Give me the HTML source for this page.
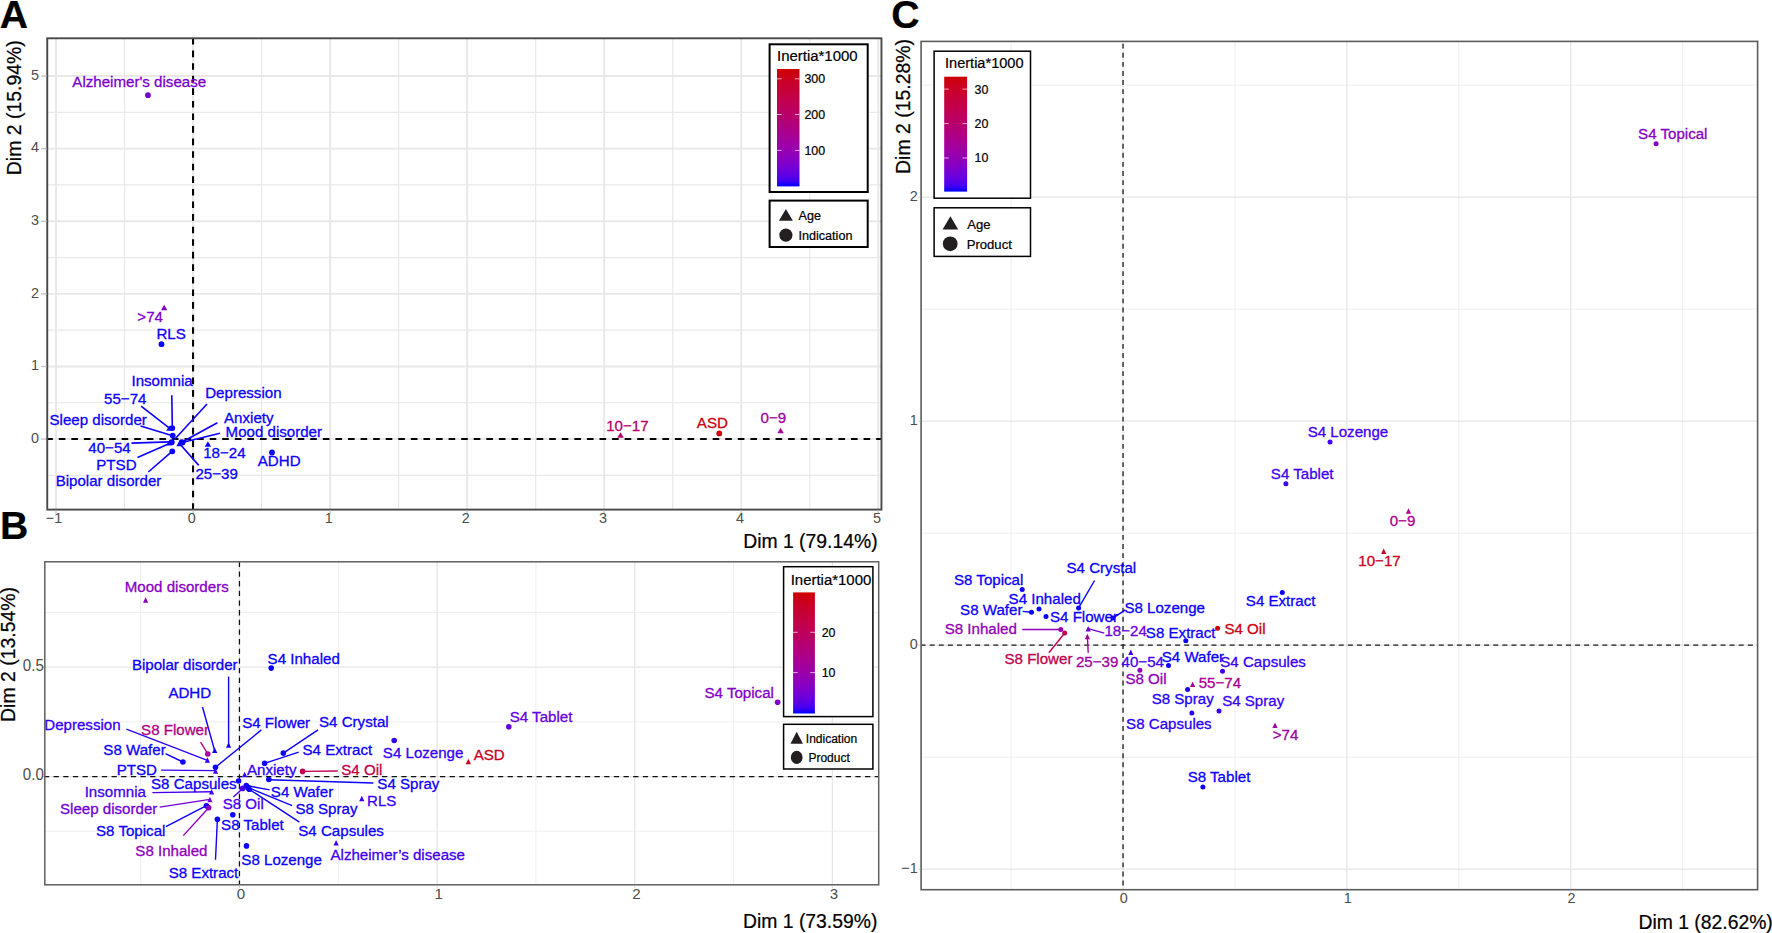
<!DOCTYPE html>
<html lang="en"><head><meta charset="utf-8"><title>Correspondence analysis biplots</title>
<style>html,body{margin:0;padding:0;background:#fff}svg{display:block;position:absolute;left:0;top:0}text{font-family:"Liberation Sans",sans-serif;white-space:pre}.k{stroke:#000;stroke-width:.22px}</style></head><body>
<svg width="1772" height="933" viewBox="0 0 1772 933">
<defs><linearGradient id="grad" x1="0" y1="0" x2="0" y2="1"><stop offset="0" stop-color="#CD0000"/><stop offset="0.05" stop-color="#CB0016"/><stop offset="0.1" stop-color="#CA0024"/><stop offset="0.15" stop-color="#C70031"/><stop offset="0.2" stop-color="#C5003D"/><stop offset="0.25" stop-color="#C30049"/><stop offset="0.3" stop-color="#C00054"/><stop offset="0.35" stop-color="#BC0060"/><stop offset="0.4" stop-color="#B9006B"/><stop offset="0.45" stop-color="#B40077"/><stop offset="0.5" stop-color="#B00083"/><stop offset="0.55" stop-color="#AA008F"/><stop offset="0.6" stop-color="#A4009B"/><stop offset="0.65" stop-color="#9D00A7"/><stop offset="0.7" stop-color="#9500B3"/><stop offset="0.75" stop-color="#8B00BF"/><stop offset="0.8" stop-color="#7F00CC"/><stop offset="0.85" stop-color="#7100D8"/><stop offset="0.9" stop-color="#5F00E5"/><stop offset="0.95" stop-color="#4500F2"/><stop offset="1" stop-color="#0000FF"/></linearGradient></defs>
<rect width="1772" height="933" fill="#fff"/>
<g shape-rendering="auto">
<line x1="124.53" y1="38.3" x2="124.53" y2="509.6" stroke="#E9E9E9" stroke-width="1.2"/>
<line x1="261.58" y1="38.3" x2="261.58" y2="509.6" stroke="#E9E9E9" stroke-width="1.2"/>
<line x1="398.62" y1="38.3" x2="398.62" y2="509.6" stroke="#E9E9E9" stroke-width="1.2"/>
<line x1="535.67" y1="38.3" x2="535.67" y2="509.6" stroke="#E9E9E9" stroke-width="1.2"/>
<line x1="672.73" y1="38.3" x2="672.73" y2="509.6" stroke="#E9E9E9" stroke-width="1.2"/>
<line x1="809.78" y1="38.3" x2="809.78" y2="509.6" stroke="#E9E9E9" stroke-width="1.2"/>
<line x1="47.25" y1="475.37" x2="881.45" y2="475.37" stroke="#E9E9E9" stroke-width="1.2"/>
<line x1="47.25" y1="402.77" x2="881.45" y2="402.77" stroke="#E9E9E9" stroke-width="1.2"/>
<line x1="47.25" y1="330.17" x2="881.45" y2="330.17" stroke="#E9E9E9" stroke-width="1.2"/>
<line x1="47.25" y1="257.57" x2="881.45" y2="257.57" stroke="#E9E9E9" stroke-width="1.2"/>
<line x1="47.25" y1="184.97" x2="881.45" y2="184.97" stroke="#E9E9E9" stroke-width="1.2"/>
<line x1="47.25" y1="112.37" x2="881.45" y2="112.37" stroke="#E9E9E9" stroke-width="1.2"/>
<line x1="56" y1="38.3" x2="56" y2="509.6" stroke="#E8E8E8" stroke-width="1.9"/>
<line x1="193.05" y1="38.3" x2="193.05" y2="509.6" stroke="#E8E8E8" stroke-width="1.9"/>
<line x1="330.1" y1="38.3" x2="330.1" y2="509.6" stroke="#E8E8E8" stroke-width="1.9"/>
<line x1="467.15" y1="38.3" x2="467.15" y2="509.6" stroke="#E8E8E8" stroke-width="1.9"/>
<line x1="604.2" y1="38.3" x2="604.2" y2="509.6" stroke="#E8E8E8" stroke-width="1.9"/>
<line x1="741.25" y1="38.3" x2="741.25" y2="509.6" stroke="#E8E8E8" stroke-width="1.9"/>
<line x1="878.3" y1="38.3" x2="878.3" y2="509.6" stroke="#E8E8E8" stroke-width="1.9"/>
<line x1="47.25" y1="439.07" x2="881.45" y2="439.07" stroke="#E8E8E8" stroke-width="1.9"/>
<line x1="47.25" y1="366.47" x2="881.45" y2="366.47" stroke="#E8E8E8" stroke-width="1.9"/>
<line x1="47.25" y1="293.87" x2="881.45" y2="293.87" stroke="#E8E8E8" stroke-width="1.9"/>
<line x1="47.25" y1="221.27" x2="881.45" y2="221.27" stroke="#E8E8E8" stroke-width="1.9"/>
<line x1="47.25" y1="148.67" x2="881.45" y2="148.67" stroke="#E8E8E8" stroke-width="1.9"/>
<line x1="47.25" y1="76.07" x2="881.45" y2="76.07" stroke="#E8E8E8" stroke-width="1.9"/>
</g>
<line x1="46.2" y1="439.07" x2="881.45" y2="439.07" stroke="#000" stroke-width="2.1" stroke-dasharray="6.6 5.975"/>
<line x1="193.05" y1="38" x2="193.05" y2="509.6" stroke="#000" stroke-width="2.1" stroke-dasharray="6.6 5.975"/>
<line x1="171.8" y1="395.3" x2="172.3" y2="426.9" stroke="#0C00FE" stroke-width="1.6"/>
<line x1="141.1" y1="406.1" x2="169.1" y2="427.8" stroke="#0C00FE" stroke-width="1.6"/>
<line x1="207" y1="404" x2="174.5" y2="439.5" stroke="#0C00FE" stroke-width="1.6"/>
<line x1="140.5" y1="426" x2="171.8" y2="435.4" stroke="#0C00FE" stroke-width="1.6"/>
<line x1="217.4" y1="422.7" x2="181.7" y2="442.2" stroke="#0C00FE" stroke-width="1.6"/>
<line x1="220" y1="433.2" x2="183.1" y2="442.2" stroke="#0C00FE" stroke-width="1.6"/>
<line x1="131.5" y1="443.1" x2="169.1" y2="441.9" stroke="#0C00FE" stroke-width="1.6"/>
<line x1="137.5" y1="457.6" x2="171.8" y2="442.6" stroke="#0C00FE" stroke-width="1.6"/>
<line x1="148.3" y1="472" x2="171.8" y2="451.6" stroke="#0C00FE" stroke-width="1.6"/>
<line x1="198.8" y1="465.4" x2="179.9" y2="444" stroke="#0C00FE" stroke-width="1.6"/>
<circle cx="147.95" cy="95.2" r="2.9" fill="#7A00D1"/>
<circle cx="161.5" cy="344.2" r="2.9" fill="#0F00FE"/>
<path d="M164.15 304.8 L167.35 310.2 L160.95 310.2Z" fill="#7D00CE"/>
<circle cx="172.3" cy="428.1" r="2.9" fill="#0C00FE"/>
<path d="M169.4 425.4 L172.6 430.8 L166.2 430.8Z" fill="#0C00FE"/>
<circle cx="172.7" cy="435.6" r="2.9" fill="#0C00FE"/>
<path d="M169.4 440.1 L172.6 445.5 L166.2 445.5Z" fill="#0C00FE"/>
<circle cx="171.8" cy="442.2" r="2.9" fill="#0C00FE"/>
<circle cx="181.7" cy="442.2" r="2.9" fill="#0C00FE"/>
<circle cx="182.6" cy="442.6" r="2.9" fill="#0C00FE"/>
<path d="M179.5 440.8 L182.7 446.2 L176.3 446.2Z" fill="#0C00FE"/>
<circle cx="172.3" cy="451.3" r="2.9" fill="#0C00FE"/>
<path d="M207.9 441.3 L211.1 446.7 L204.7 446.7Z" fill="#0C00FE"/>
<circle cx="272" cy="452.5" r="2.9" fill="#0C00FE"/>
<path d="M620.55 432.3 L623.75 437.7 L617.35 437.7Z" fill="#B9006B"/>
<circle cx="719.3" cy="433.4" r="2.9" fill="#CC000E"/>
<path d="M780.6 427.8 L783.8 433.2 L777.4 433.2Z" fill="#A100A0"/>
<text transform="translate(72.36 86.7) scale(1 1.0)" font-size="15.1" fill="#7A00D1" stroke="#7A00D1" stroke-width="0.3">Alzheimer's disease</text>
<text transform="translate(137.35 322.1) scale(1 1.0)" font-size="15.1" fill="#7D00CE" stroke="#7D00CE" stroke-width="0.3">&gt;74</text>
<text transform="translate(156.47 339.2) scale(1 1.0)" font-size="15.1" fill="#0F00FE" stroke="#0F00FE" stroke-width="0.3">RLS</text>
<text transform="translate(131.45 386.2) scale(1 1.0)" font-size="15.1" fill="#0C00FE" stroke="#0C00FE" stroke-width="0.3">Insomnia</text>
<text transform="translate(104.03 404.3) scale(1 1.0)" font-size="15.1" fill="#0C00FE" stroke="#0C00FE" stroke-width="0.3">55−74</text>
<text transform="translate(205.2 397.6) scale(1 1.0)" font-size="15.1" fill="#0C00FE" stroke="#0C00FE" stroke-width="0.3">Depression</text>
<text transform="translate(49.5 424.7) scale(1 1.0)" font-size="15.1" fill="#0C00FE" stroke="#0C00FE" stroke-width="0.3">Sleep disorder</text>
<text transform="translate(224.04 422.9) scale(1 1.0)" font-size="15.1" fill="#0C00FE" stroke="#0C00FE" stroke-width="0.3">Anxiety</text>
<text transform="translate(225.56 437) scale(1 1.0)" font-size="15.1" fill="#0C00FE" stroke="#0C00FE" stroke-width="0.3">Mood disorder</text>
<text transform="translate(88.33 452.7) scale(1 1.0)" font-size="15.1" fill="#0C00FE" stroke="#0C00FE" stroke-width="0.3">40−54</text>
<text transform="translate(203.18 458.1) scale(1 1.0)" font-size="15.1" fill="#0C00FE" stroke="#0C00FE" stroke-width="0.3">18−24</text>
<text transform="translate(257.8 466.2) scale(1 1.0)" font-size="15.1" fill="#0C00FE" stroke="#0C00FE" stroke-width="0.3">ADHD</text>
<text transform="translate(96.28 470.4) scale(1 1.0)" font-size="15.1" fill="#0C00FE" stroke="#0C00FE" stroke-width="0.3">PTSD</text>
<text transform="translate(195.48 478.9) scale(1 1.0)" font-size="15.1" fill="#0C00FE" stroke="#0C00FE" stroke-width="0.3">25−39</text>
<text transform="translate(55.66 486.1) scale(1 1.0)" font-size="15.1" fill="#0C00FE" stroke="#0C00FE" stroke-width="0.3">Bipolar disorder</text>
<text transform="translate(606.23 430.9) scale(1 1.0)" font-size="15.1" fill="#B9006B" stroke="#B9006B" stroke-width="0.3">10−17</text>
<text transform="translate(696.83 428.3) scale(1 1.0)" font-size="15.1" fill="#CC000E" stroke="#CC000E" stroke-width="0.3">ASD</text>
<text transform="translate(760.6 422.6) scale(1 1.0)" font-size="15.1" fill="#A100A0" stroke="#A100A0" stroke-width="0.3">0−9</text>
<rect x="47.25" y="38.3" width="834.2" height="471.3" fill="none" stroke="#484848" stroke-width="1.9"/>
<line x1="56" y1="510.3" x2="56" y2="514.1" stroke="#C4C4C4" stroke-width="1.3"/>
<text transform="translate(54 522.5) scale(1 1.03)" font-size="14.4" fill="#4D4D4D" text-anchor="middle">−1</text>
<line x1="193.05" y1="510.3" x2="193.05" y2="514.1" stroke="#C4C4C4" stroke-width="1.3"/>
<text transform="translate(191.75 522.5) scale(1 1.03)" font-size="14.4" fill="#4D4D4D" text-anchor="middle">0</text>
<line x1="330.1" y1="510.3" x2="330.1" y2="514.1" stroke="#C4C4C4" stroke-width="1.3"/>
<text transform="translate(328.8 522.5) scale(1 1.03)" font-size="14.4" fill="#4D4D4D" text-anchor="middle">1</text>
<line x1="467.15" y1="510.3" x2="467.15" y2="514.1" stroke="#C4C4C4" stroke-width="1.3"/>
<text transform="translate(465.85 522.5) scale(1 1.03)" font-size="14.4" fill="#4D4D4D" text-anchor="middle">2</text>
<line x1="604.2" y1="510.3" x2="604.2" y2="514.1" stroke="#C4C4C4" stroke-width="1.3"/>
<text transform="translate(602.9 522.5) scale(1 1.03)" font-size="14.4" fill="#4D4D4D" text-anchor="middle">3</text>
<line x1="741.25" y1="510.3" x2="741.25" y2="514.1" stroke="#C4C4C4" stroke-width="1.3"/>
<text transform="translate(739.95 522.5) scale(1 1.03)" font-size="14.4" fill="#4D4D4D" text-anchor="middle">4</text>
<line x1="878.3" y1="510.3" x2="878.3" y2="514.1" stroke="#C4C4C4" stroke-width="1.3"/>
<text transform="translate(877 522.5) scale(1 1.03)" font-size="14.4" fill="#4D4D4D" text-anchor="middle">5</text>
<line x1="41.1" y1="439.07" x2="46.55" y2="439.07" stroke="#C4C4C4" stroke-width="1.3"/>
<text transform="translate(39 442.77) scale(1 1.03)" font-size="14.4" fill="#4D4D4D" text-anchor="end">0</text>
<line x1="41.1" y1="366.47" x2="46.55" y2="366.47" stroke="#C4C4C4" stroke-width="1.3"/>
<text transform="translate(39 370.17) scale(1 1.03)" font-size="14.4" fill="#4D4D4D" text-anchor="end">1</text>
<line x1="41.1" y1="293.87" x2="46.55" y2="293.87" stroke="#C4C4C4" stroke-width="1.3"/>
<text transform="translate(39 297.57) scale(1 1.03)" font-size="14.4" fill="#4D4D4D" text-anchor="end">2</text>
<line x1="41.1" y1="221.27" x2="46.55" y2="221.27" stroke="#C4C4C4" stroke-width="1.3"/>
<text transform="translate(39 224.97) scale(1 1.03)" font-size="14.4" fill="#4D4D4D" text-anchor="end">3</text>
<line x1="41.1" y1="148.67" x2="46.55" y2="148.67" stroke="#C4C4C4" stroke-width="1.3"/>
<text transform="translate(39 152.37) scale(1 1.03)" font-size="14.4" fill="#4D4D4D" text-anchor="end">4</text>
<line x1="41.1" y1="76.07" x2="46.55" y2="76.07" stroke="#C4C4C4" stroke-width="1.3"/>
<text transform="translate(39 79.77) scale(1 1.03)" font-size="14.4" fill="#4D4D4D" text-anchor="end">5</text>
<text x="877.6" y="548.2" font-size="19.35" class="k" fill="#000" text-anchor="end">Dim 1 (79.14%)</text>
<text transform="translate(21.4 40.2) rotate(-90) scale(0.972 1)" font-size="20.0" class="k" fill="#000" text-anchor="end">Dim 2 (15.94%)</text>
<text x="-0.2" y="28.4" font-size="39.2" font-weight="bold" class="k" fill="#000">A</text>
<rect x="769.6" y="44.3" width="98.1" height="147.7" fill="#fff" stroke="#000" stroke-width="2.0"/>
<text transform="translate(777 60.8) scale(0.965 1)" font-size="15.5" class="k" fill="#000">Inertia*1000</text>
<rect x="777" y="69" width="22.5" height="117.4" fill="url(#grad)"/>
<path d="M777 78.8h4.6M799.5 78.8h-4.6" stroke="#fff" stroke-opacity="0.85" stroke-width="0.8"/>
<text x="804.4" y="83.2" font-size="12.4" class="k" fill="#000">300</text>
<path d="M777 114.5h4.6M799.5 114.5h-4.6" stroke="#fff" stroke-opacity="0.85" stroke-width="0.8"/>
<text x="804.4" y="118.9" font-size="12.4" class="k" fill="#000">200</text>
<path d="M777 150.4h4.6M799.5 150.4h-4.6" stroke="#fff" stroke-opacity="0.85" stroke-width="0.8"/>
<text x="804.4" y="154.8" font-size="12.4" class="k" fill="#000">100</text>
<rect x="769.6" y="200.6" width="98.1" height="46.4" fill="#fff" stroke="#000" stroke-width="2.0"/>
<path d="M785.9 209 L792.9 220.8 L778.9 220.8Z" fill="#231F20"/>
<text x="798.5" y="220.3" font-size="12.6" class="k" fill="#000">Age</text>
<ellipse cx="785.9" cy="235.1" rx="6.6" ry="6.6" fill="#231F20"/>
<text x="798.5" y="239.8" font-size="12.6" class="k" fill="#000">Indication</text>
<g shape-rendering="auto">
<line x1="140.62" y1="561.8" x2="140.62" y2="884.8" stroke="#EFEFEF" stroke-width="1.0"/>
<line x1="338.27" y1="561.8" x2="338.27" y2="884.8" stroke="#EFEFEF" stroke-width="1.0"/>
<line x1="535.92" y1="561.8" x2="535.92" y2="884.8" stroke="#EFEFEF" stroke-width="1.0"/>
<line x1="733.58" y1="561.8" x2="733.58" y2="884.8" stroke="#EFEFEF" stroke-width="1.0"/>
<line x1="44.8" y1="831.25" x2="878.7" y2="831.25" stroke="#EFEFEF" stroke-width="1.0"/>
<line x1="44.8" y1="721.85" x2="878.7" y2="721.85" stroke="#EFEFEF" stroke-width="1.0"/>
<line x1="44.8" y1="612.45" x2="878.7" y2="612.45" stroke="#EFEFEF" stroke-width="1.0"/>
<line x1="239.45" y1="561.8" x2="239.45" y2="884.8" stroke="#E6E6E6" stroke-width="1.3"/>
<line x1="437.1" y1="561.8" x2="437.1" y2="884.8" stroke="#E6E6E6" stroke-width="1.3"/>
<line x1="634.75" y1="561.8" x2="634.75" y2="884.8" stroke="#E6E6E6" stroke-width="1.3"/>
<line x1="832.4" y1="561.8" x2="832.4" y2="884.8" stroke="#E6E6E6" stroke-width="1.3"/>
<line x1="44.8" y1="776.55" x2="878.7" y2="776.55" stroke="#E6E6E6" stroke-width="1.3"/>
<line x1="44.8" y1="667.15" x2="878.7" y2="667.15" stroke="#E6E6E6" stroke-width="1.3"/>
</g>
<line x1="43.9" y1="776.55" x2="878.7" y2="776.55" stroke="#111" stroke-width="1.25" stroke-dasharray="5.3 4.36"/>
<line x1="239.45" y1="561.8" x2="239.45" y2="884.8" stroke="#111" stroke-width="1.25" stroke-dasharray="5.3 4.36"/>
<line x1="228.6" y1="676.6" x2="228.6" y2="745.6" stroke="#0C00FE" stroke-width="1.4"/>
<line x1="202.5" y1="707" x2="214.7" y2="750.8" stroke="#0C00FE" stroke-width="1.4"/>
<line x1="126.4" y1="729.2" x2="207.4" y2="760.4" stroke="#3100F9" stroke-width="1.4"/>
<line x1="200.6" y1="742.1" x2="207.8" y2="754" stroke="#B00083" stroke-width="1.4"/>
<line x1="165.5" y1="753.7" x2="182.9" y2="762" stroke="#0C00FE" stroke-width="1.4"/>
<line x1="261.4" y1="729.9" x2="215.5" y2="767.2" stroke="#0C00FE" stroke-width="1.4"/>
<line x1="161.1" y1="770.1" x2="215.5" y2="770.6" stroke="#3E00F5" stroke-width="1.4"/>
<line x1="318" y1="729.9" x2="283.3" y2="753.1" stroke="#0C00FE" stroke-width="1.4"/>
<line x1="298.7" y1="752.1" x2="264.6" y2="763.3" stroke="#0C00FE" stroke-width="1.4"/>
<line x1="302.6" y1="771.4" x2="337.7" y2="771" stroke="#C1004D" stroke-width="1.4"/>
<line x1="268.8" y1="779.7" x2="373.4" y2="783" stroke="#0C00FE" stroke-width="1.4"/>
<line x1="233.4" y1="797.1" x2="242.7" y2="788.4" stroke="#4B00EF" stroke-width="1.4"/>
<line x1="246.3" y1="785.5" x2="269.7" y2="789.9" stroke="#0C00FE" stroke-width="1.4"/>
<line x1="247.9" y1="787.4" x2="292.2" y2="805.7" stroke="#0C00FE" stroke-width="1.4"/>
<line x1="249.2" y1="789.3" x2="299.4" y2="822.1" stroke="#0C00FE" stroke-width="1.4"/>
<line x1="152.4" y1="792.6" x2="211.6" y2="791.7" stroke="#4500F2" stroke-width="1.4"/>
<line x1="159.7" y1="807.1" x2="209.9" y2="799.4" stroke="#7100D8" stroke-width="1.4"/>
<line x1="165.9" y1="826.6" x2="206.4" y2="805.7" stroke="#0C00FE" stroke-width="1.4"/>
<line x1="183.3" y1="835.6" x2="208.7" y2="807.7" stroke="#8F00BA" stroke-width="1.4"/>
<line x1="215.5" y1="859.8" x2="217.4" y2="819.2" stroke="#0C00FE" stroke-width="1.4"/>
<path d="M145.6 597.35 L148.2 602.85 L143 602.85Z" fill="#8700C4"/>
<circle cx="271.2" cy="668.1" r="2.8" fill="#0C00FE"/>
<path d="M214.7 747.55 L217.3 753.05 L212.1 753.05Z" fill="#0C00FE"/>
<path d="M228.6 742.35 L231.2 747.85 L226 747.85Z" fill="#0C00FE"/>
<path d="M207.4 757.15 L210 762.65 L204.8 762.65Z" fill="#3100F9"/>
<circle cx="207.8" cy="754" r="2.8" fill="#A70096"/>
<circle cx="182.9" cy="762" r="2.8" fill="#0C00FE"/>
<circle cx="215.5" cy="767.2" r="2.8" fill="#0C00FE"/>
<path d="M215.5 768.15 L218.1 773.65 L212.9 773.65Z" fill="#3E00F5"/>
<circle cx="283.3" cy="753.1" r="2.8" fill="#0C00FE"/>
<circle cx="264.6" cy="763.3" r="2.8" fill="#0C00FE"/>
<path d="M244.6 771.75 L247.2 777.25 L242 777.25Z" fill="#2B00FA"/>
<circle cx="302.6" cy="771.4" r="2.8" fill="#C1004D"/>
<circle cx="268.8" cy="779.5" r="2.8" fill="#0C00FE"/>
<circle cx="238.6" cy="781" r="2.8" fill="#0C00FE"/>
<circle cx="246.3" cy="785.5" r="2.8" fill="#0C00FE"/>
<circle cx="247.9" cy="787.4" r="2.8" fill="#0C00FE"/>
<circle cx="249.2" cy="789.3" r="2.8" fill="#0C00FE"/>
<circle cx="242.7" cy="788.4" r="2.8" fill="#4B00EF"/>
<path d="M211.6 788.95 L214.2 794.45 L209 794.45Z" fill="#4500F2"/>
<path d="M209.9 796.65 L212.5 802.15 L207.3 802.15Z" fill="#7100D8"/>
<circle cx="206.4" cy="805.7" r="2.8" fill="#0C00FE"/>
<circle cx="208.7" cy="807.7" r="2.8" fill="#8F00BA"/>
<circle cx="217.4" cy="819.2" r="2.8" fill="#0C00FE"/>
<circle cx="232.8" cy="814.8" r="2.8" fill="#0C00FE"/>
<circle cx="246.5" cy="845.9" r="2.8" fill="#0C00FE"/>
<path d="M361.8 795.65 L364.4 801.15 L359.2 801.15Z" fill="#3E00F5"/>
<path d="M336.1 840.05 L338.7 845.55 L333.5 845.55Z" fill="#4100F3"/>
<circle cx="394.2" cy="740.5" r="2.8" fill="#3500F7"/>
<path d="M468.3 758.65 L470.9 764.15 L465.7 764.15Z" fill="#CB001C"/>
<circle cx="508.8" cy="726.7" r="2.8" fill="#6700E0"/>
<circle cx="777.6" cy="702.2" r="2.8" fill="#8200C9"/>
<text transform="translate(124.68 591.9) scale(1 1.0)" font-size="15.1" fill="#8700C4" stroke="#8700C4" stroke-width="0.3">Mood disorders</text>
<text transform="translate(131.91 670) scale(1 1.0)" font-size="15.1" fill="#0C00FE" stroke="#0C00FE" stroke-width="0.3">Bipolar disorder</text>
<text transform="translate(267.6 663.6) scale(1 1.0)" font-size="15.1" fill="#0C00FE" stroke="#0C00FE" stroke-width="0.3">S4 Inhaled</text>
<text transform="translate(168.4 697.7) scale(1 1.0)" font-size="15.1" fill="#0C00FE" stroke="#0C00FE" stroke-width="0.3">ADHD</text>
<text transform="translate(44.25 730) scale(1 1.0)" font-size="15.1" fill="#3100F9" stroke="#3100F9" stroke-width="0.3">Depression</text>
<text transform="translate(141.08 734.9) scale(1 1.0)" font-size="15.1" fill="#B00083" stroke="#B00083" stroke-width="0.3">S8 Flower</text>
<text transform="translate(242.17 727.9) scale(1 1.0)" font-size="15.1" fill="#0C00FE" stroke="#0C00FE" stroke-width="0.3">S4 Flower</text>
<text transform="translate(319.04 726.6) scale(1 1.0)" font-size="15.1" fill="#0C00FE" stroke="#0C00FE" stroke-width="0.3">S4 Crystal</text>
<text transform="translate(103.37 754.7) scale(1 1.0)" font-size="15.1" fill="#0C00FE" stroke="#0C00FE" stroke-width="0.3">S8 Wafer</text>
<text transform="translate(302.51 754.5) scale(1 1.0)" font-size="15.1" fill="#0C00FE" stroke="#0C00FE" stroke-width="0.3">S4 Extract</text>
<text transform="translate(116.68 774.8) scale(1 1.0)" font-size="15.1" fill="#0C00FE" stroke="#0C00FE" stroke-width="0.3">PTSD</text>
<text transform="translate(246.99 775.4) scale(1 1.0)" font-size="15.1" fill="#2B00FA" stroke="#2B00FA" stroke-width="0.3">Anxiety</text>
<text transform="translate(341.23 775.4) scale(1 1.0)" font-size="15.1" fill="#C1004D" stroke="#C1004D" stroke-width="0.3">S4 Oil</text>
<text transform="translate(151.04 789.3) scale(1 1.0)" font-size="15.1" fill="#0C00FE" stroke="#0C00FE" stroke-width="0.3">S8 Capsules</text>
<text transform="translate(377.33 789.3) scale(1 1.0)" font-size="15.1" fill="#0C00FE" stroke="#0C00FE" stroke-width="0.3">S4 Spray</text>
<text transform="translate(84.65 797.2) scale(1 1.0)" font-size="15.1" fill="#4500F2" stroke="#4500F2" stroke-width="0.3">Insomnia</text>
<text transform="translate(270.82 796.8) scale(1 1.0)" font-size="15.1" fill="#0C00FE" stroke="#0C00FE" stroke-width="0.3">S4 Wafer</text>
<text transform="translate(60 813.6) scale(1 1.0)" font-size="15.1" fill="#7100D8" stroke="#7100D8" stroke-width="0.3">Sleep disorder</text>
<text transform="translate(222.63 808.6) scale(1 1.0)" font-size="15.1" fill="#4B00EF" stroke="#4B00EF" stroke-width="0.3">S8 Oil</text>
<text transform="translate(295.38 814) scale(1 1.0)" font-size="15.1" fill="#0C00FE" stroke="#0C00FE" stroke-width="0.3">S8 Spray</text>
<text transform="translate(367.07 805.7) scale(1 1.0)" font-size="15.1" fill="#3E00F5" stroke="#3E00F5" stroke-width="0.3">RLS</text>
<text transform="translate(96.01 835.6) scale(1 1.0)" font-size="15.1" fill="#0C00FE" stroke="#0C00FE" stroke-width="0.3">S8 Topical</text>
<text transform="translate(221.07 829.8) scale(1 1.0)" font-size="15.1" fill="#0C00FE" stroke="#0C00FE" stroke-width="0.3">S8 Tablet</text>
<text transform="translate(298.29 836.3) scale(1 1.0)" font-size="15.1" fill="#0C00FE" stroke="#0C00FE" stroke-width="0.3">S4 Capsules</text>
<text transform="translate(135.31 856) scale(1 1.0)" font-size="15.1" fill="#8F00BA" stroke="#8F00BA" stroke-width="0.3">S8 Inhaled</text>
<text transform="translate(241.33 864.7) scale(1 1.0)" font-size="15.1" fill="#0C00FE" stroke="#0C00FE" stroke-width="0.3">S8 Lozenge</text>
<text transform="translate(168.66 877.8) scale(1 1.0)" font-size="15.1" fill="#0C00FE" stroke="#0C00FE" stroke-width="0.3">S8 Extract</text>
<text transform="translate(330.48 859.9) scale(1 1.0)" font-size="15.1" fill="#4100F3" stroke="#4100F3" stroke-width="0.3">Alzheimer’s disease</text>
<text transform="translate(382.83 758.4) scale(1 1.0)" font-size="15.1" fill="#3500F7" stroke="#3500F7" stroke-width="0.3">S4 Lozenge</text>
<text transform="translate(473.63 759.6) scale(1 1.0)" font-size="15.1" fill="#CB001C" stroke="#CB001C" stroke-width="0.3">ASD</text>
<text transform="translate(509.7 722.3) scale(1 1.0)" font-size="15.1" fill="#6700E0" stroke="#6700E0" stroke-width="0.3">S4 Tablet</text>
<text transform="translate(704.51 697.5) scale(1 1.0)" font-size="15.1" fill="#8200C9" stroke="#8200C9" stroke-width="0.3">S4 Topical</text>
<rect x="44.8" y="561.8" width="833.9" height="323" fill="none" stroke="#606060" stroke-width="1.5"/>
<line x1="239.45" y1="885.4" x2="239.45" y2="887.8" stroke="#C8C8C8" stroke-width="0.8"/>
<text transform="translate(241.05 899.1) scale(1 1.03)" font-size="15.1" fill="#4D4D4D" text-anchor="middle">0</text>
<line x1="437.1" y1="885.4" x2="437.1" y2="887.8" stroke="#C8C8C8" stroke-width="0.8"/>
<text transform="translate(438.7 899.1) scale(1 1.03)" font-size="15.1" fill="#4D4D4D" text-anchor="middle">1</text>
<line x1="634.75" y1="885.4" x2="634.75" y2="887.8" stroke="#C8C8C8" stroke-width="0.8"/>
<text transform="translate(636.35 899.1) scale(1 1.03)" font-size="15.1" fill="#4D4D4D" text-anchor="middle">2</text>
<line x1="832.4" y1="885.4" x2="832.4" y2="887.8" stroke="#C8C8C8" stroke-width="0.8"/>
<text transform="translate(834 899.1) scale(1 1.03)" font-size="15.1" fill="#4D4D4D" text-anchor="middle">3</text>
<line x1="41.8" y1="776.55" x2="44.2" y2="776.55" stroke="#C8C8C8" stroke-width="0.8"/>
<text transform="translate(43.8 780.3) scale(1 1.04)" font-size="15.1" fill="#4D4D4D" text-anchor="end">0.0</text>
<line x1="41.8" y1="667.15" x2="44.2" y2="667.15" stroke="#C8C8C8" stroke-width="0.8"/>
<text transform="translate(43.8 670.9) scale(1 1.04)" font-size="15.1" fill="#4D4D4D" text-anchor="end">0.5</text>
<text x="877.4" y="927.7" font-size="19.35" class="k" fill="#000" text-anchor="end">Dim 1 (73.59%)</text>
<text transform="translate(14.5 586.9) rotate(-90) scale(0.972 1)" font-size="20.0" class="k" fill="#000" text-anchor="end">Dim 2 (13.54%)</text>
<text x="0" y="539.3" font-size="39.2" font-weight="bold" class="k" fill="#000">B</text>
<rect x="783.6" y="566.7" width="89.3" height="149.9" fill="#fff" stroke="#000" stroke-width="1.5"/>
<text transform="translate(790.7 584.9) scale(0.965 1)" font-size="15.5" class="k" fill="#000">Inertia*1000</text>
<rect x="793.1" y="592.4" width="21.8" height="121.1" fill="url(#grad)"/>
<path d="M793.1 632.3h4.6M814.9 632.3h-4.6" stroke="#fff" stroke-opacity="0.85" stroke-width="0.8"/>
<text x="821.7" y="636.7" font-size="12.4" class="k" fill="#000">20</text>
<path d="M793.1 672.6h4.6M814.9 672.6h-4.6" stroke="#fff" stroke-opacity="0.85" stroke-width="0.8"/>
<text x="821.7" y="677" font-size="12.4" class="k" fill="#000">10</text>
<rect x="783.6" y="724.3" width="89.3" height="44.7" fill="#fff" stroke="#000" stroke-width="1.5"/>
<path d="M796.7 731.76 L802.93 743.63 L790.47 743.63Z" fill="#231F20"/>
<text x="805.8" y="743.3" font-size="12" class="k" fill="#000">Indication</text>
<ellipse cx="796.7" cy="757.4" rx="5.87" ry="6.64" fill="#231F20"/>
<text x="808.4" y="761.8" font-size="12" class="k" fill="#000">Product</text>
<g shape-rendering="auto">
<line x1="1011.11" y1="41.4" x2="1011.11" y2="889.7" stroke="#EFEFEF" stroke-width="1.0"/>
<line x1="1234.95" y1="41.4" x2="1234.95" y2="889.7" stroke="#EFEFEF" stroke-width="1.0"/>
<line x1="1458.8" y1="41.4" x2="1458.8" y2="889.7" stroke="#EFEFEF" stroke-width="1.0"/>
<line x1="1682.65" y1="41.4" x2="1682.65" y2="889.7" stroke="#EFEFEF" stroke-width="1.0"/>
<line x1="921.1" y1="757.15" x2="1757.6" y2="757.15" stroke="#EFEFEF" stroke-width="1.0"/>
<line x1="921.1" y1="533.15" x2="1757.6" y2="533.15" stroke="#EFEFEF" stroke-width="1.0"/>
<line x1="921.1" y1="309.15" x2="1757.6" y2="309.15" stroke="#EFEFEF" stroke-width="1.0"/>
<line x1="921.1" y1="85.15" x2="1757.6" y2="85.15" stroke="#EFEFEF" stroke-width="1.0"/>
<line x1="1123.03" y1="41.4" x2="1123.03" y2="889.7" stroke="#E6E6E6" stroke-width="1.3"/>
<line x1="1346.88" y1="41.4" x2="1346.88" y2="889.7" stroke="#E6E6E6" stroke-width="1.3"/>
<line x1="1570.73" y1="41.4" x2="1570.73" y2="889.7" stroke="#E6E6E6" stroke-width="1.3"/>
<line x1="921.1" y1="869.15" x2="1757.6" y2="869.15" stroke="#E6E6E6" stroke-width="1.3"/>
<line x1="921.1" y1="645.15" x2="1757.6" y2="645.15" stroke="#E6E6E6" stroke-width="1.3"/>
<line x1="921.1" y1="421.15" x2="1757.6" y2="421.15" stroke="#E6E6E6" stroke-width="1.3"/>
<line x1="921.1" y1="197.15" x2="1757.6" y2="197.15" stroke="#E6E6E6" stroke-width="1.3"/>
</g>
<line x1="920.6" y1="645.15" x2="1757.6" y2="645.15" stroke="#1a1a1a" stroke-width="1.3" stroke-dasharray="5 4.09"/>
<line x1="1123.03" y1="43.7" x2="1123.03" y2="889.7" stroke="#1a1a1a" stroke-width="1.3" stroke-dasharray="4.9 4.197"/>
<line x1="1094.6" y1="580.5" x2="1078.6" y2="607.9" stroke="#0C00FE" stroke-width="1.4"/>
<line x1="1022.6" y1="611.4" x2="1031.5" y2="612.3" stroke="#0C00FE" stroke-width="1.4"/>
<line x1="1125.4" y1="609.8" x2="1112.9" y2="618.1" stroke="#0C00FE" stroke-width="1.4"/>
<line x1="1022.2" y1="629.5" x2="1060.8" y2="629.5" stroke="#9300B6" stroke-width="1.4"/>
<line x1="1048.9" y1="652.8" x2="1064.7" y2="633" stroke="#C10050" stroke-width="1.4"/>
<line x1="1088.2" y1="628.7" x2="1104.2" y2="633.2" stroke="#7100D8" stroke-width="1.4"/>
<line x1="1088.2" y1="652.8" x2="1087.4" y2="636.5" stroke="#A100A0" stroke-width="1.4"/>
<circle cx="1656.1" cy="143.8" r="2.5" fill="#8700C4"/>
<circle cx="1330" cy="442" r="2.5" fill="#4100F3"/>
<circle cx="1285.9" cy="483.8" r="2.5" fill="#3E00F5"/>
<path d="M1408.5 508.15 L1411.1 513.65 L1405.9 513.65Z" fill="#AA008F"/>
<path d="M1383.7 548.55 L1386.3 554.05 L1381.1 554.05Z" fill="#CA001F"/>
<circle cx="1282.3" cy="592.5" r="2.5" fill="#0C00FE"/>
<circle cx="1022.2" cy="589.6" r="2.5" fill="#0C00FE"/>
<circle cx="1039" cy="608.9" r="2.5" fill="#0C00FE"/>
<circle cx="1031.5" cy="612.3" r="2.5" fill="#0C00FE"/>
<circle cx="1046" cy="616.6" r="2.5" fill="#0C00FE"/>
<circle cx="1078.6" cy="607.9" r="2.5" fill="#0C00FE"/>
<circle cx="1112.9" cy="618.1" r="2.5" fill="#0C00FE"/>
<circle cx="1060.8" cy="629.5" r="2.5" fill="#9300B6"/>
<circle cx="1064.7" cy="633" r="2.5" fill="#C10050"/>
<path d="M1088.2 625.95 L1090.8 631.45 L1085.6 631.45Z" fill="#7100D8"/>
<path d="M1087.4 633.75 L1090 639.25 L1084.8 639.25Z" fill="#A100A0"/>
<circle cx="1185.8" cy="640.7" r="2.5" fill="#0C00FE"/>
<circle cx="1217.6" cy="628.2" r="2.5" fill="#CC000E"/>
<path d="M1130.8 649.55 L1133.4 655.05 L1128.2 655.05Z" fill="#4500F2"/>
<circle cx="1168.5" cy="665.4" r="2.5" fill="#0C00FE"/>
<circle cx="1139.9" cy="670.2" r="2.5" fill="#8F00BA"/>
<path d="M1192.6 681.55 L1195.2 687.05 L1190 687.05Z" fill="#AA008F"/>
<circle cx="1187.6" cy="689.5" r="2.5" fill="#2000FC"/>
<circle cx="1222.5" cy="671.2" r="2.5" fill="#3A00F6"/>
<circle cx="1219" cy="711.1" r="2.5" fill="#3A00F6"/>
<circle cx="1191.85" cy="712.95" r="2.5" fill="#2D00F9"/>
<path d="M1275 722.45 L1277.6 727.95 L1272.4 727.95Z" fill="#A000A2"/>
<circle cx="1202.9" cy="787.1" r="2.5" fill="#0C00FE"/>
<text transform="translate(1638.11 139.4) scale(1 1.0)" font-size="15.1" fill="#8700C4" stroke="#8700C4" stroke-width="0.3">S4 Topical</text>
<text transform="translate(1307.68 437.1) scale(1 1.0)" font-size="15.1" fill="#4100F3" stroke="#4100F3" stroke-width="0.3">S4 Lozenge</text>
<text transform="translate(1270.87 479.1) scale(1 1.0)" font-size="15.1" fill="#3E00F5" stroke="#3E00F5" stroke-width="0.3">S4 Tablet</text>
<text transform="translate(1389.7 525.5) scale(1 1.0)" font-size="15.1" fill="#AA008F" stroke="#AA008F" stroke-width="0.3">0−9</text>
<text transform="translate(1358.28 566) scale(1 1.0)" font-size="15.1" fill="#CA001F" stroke="#CA001F" stroke-width="0.3">10−17</text>
<text transform="translate(1066.54 572.9) scale(1 1.0)" font-size="15.1" fill="#0C00FE" stroke="#0C00FE" stroke-width="0.3">S4 Crystal</text>
<text transform="translate(953.96 584.9) scale(1 1.0)" font-size="15.1" fill="#0C00FE" stroke="#0C00FE" stroke-width="0.3">S8 Topical</text>
<text transform="translate(1008.61 604.2) scale(1 1.0)" font-size="15.1" fill="#0C00FE" stroke="#0C00FE" stroke-width="0.3">S4 Inhaled</text>
<text transform="translate(960.12 615.3) scale(1 1.0)" font-size="15.1" fill="#0C00FE" stroke="#0C00FE" stroke-width="0.3">S8 Wafer</text>
<text transform="translate(1049.97 621.5) scale(1 1.0)" font-size="15.1" fill="#0C00FE" stroke="#0C00FE" stroke-width="0.3">S4 Flower</text>
<text transform="translate(1124.43 612.8) scale(1 1.0)" font-size="15.1" fill="#0C00FE" stroke="#0C00FE" stroke-width="0.3">S8 Lozenge</text>
<text transform="translate(1245.81 606.1) scale(1 1.0)" font-size="15.1" fill="#0C00FE" stroke="#0C00FE" stroke-width="0.3">S4 Extract</text>
<text transform="translate(944.71 633.7) scale(1 1.0)" font-size="15.1" fill="#9300B6" stroke="#9300B6" stroke-width="0.3">S8 Inhaled</text>
<text transform="translate(1004.48 664) scale(1 1.0)" font-size="15.1" fill="#C10050" stroke="#C10050" stroke-width="0.3">S8 Flower</text>
<text transform="translate(1104.43 636.4) scale(1 1.0)" font-size="15.1" fill="#7100D8" stroke="#7100D8" stroke-width="0.3">18−24</text>
<text transform="translate(1075.93 667.2) scale(1 1.0)" font-size="15.1" fill="#A100A0" stroke="#A100A0" stroke-width="0.3">25−39</text>
<text transform="translate(1145.86 637.9) scale(1 1.0)" font-size="15.1" fill="#0C00FE" stroke="#0C00FE" stroke-width="0.3">S8 Extract</text>
<text transform="translate(1224.38 634.1) scale(1 1.0)" font-size="15.1" fill="#CC000E" stroke="#CC000E" stroke-width="0.3">S4 Oil</text>
<text transform="translate(1121.58 667.2) scale(1 1.0)" font-size="15.1" fill="#4500F2" stroke="#4500F2" stroke-width="0.3">40−54</text>
<text transform="translate(1161.77 662) scale(1 1.0)" font-size="15.1" fill="#0C00FE" stroke="#0C00FE" stroke-width="0.3">S4 Wafer</text>
<text transform="translate(1220.29 666.9) scale(1 1.0)" font-size="15.1" fill="#3A00F6" stroke="#3A00F6" stroke-width="0.3">S4 Capsules</text>
<text transform="translate(1125.43 683.8) scale(1 1.0)" font-size="15.1" fill="#8F00BA" stroke="#8F00BA" stroke-width="0.3">S8 Oil</text>
<text transform="translate(1198.73 688.1) scale(1 1.0)" font-size="15.1" fill="#AA008F" stroke="#AA008F" stroke-width="0.3">55−74</text>
<text transform="translate(1151.63 703.5) scale(1 1.0)" font-size="15.1" fill="#2000FC" stroke="#2000FC" stroke-width="0.3">S8 Spray</text>
<text transform="translate(1222.13 706.1) scale(1 1.0)" font-size="15.1" fill="#3A00F6" stroke="#3A00F6" stroke-width="0.3">S4 Spray</text>
<text transform="translate(1126.09 729) scale(1 1.0)" font-size="15.1" fill="#2D00F9" stroke="#2D00F9" stroke-width="0.3">S8 Capsules</text>
<text transform="translate(1272.75 739.5) scale(1 1.0)" font-size="15.1" fill="#A000A2" stroke="#A000A2" stroke-width="0.3">&gt;74</text>
<text transform="translate(1187.67 782.2) scale(1 1.0)" font-size="15.1" fill="#0C00FE" stroke="#0C00FE" stroke-width="0.3">S8 Tablet</text>
<rect x="921.1" y="41.4" width="836.5" height="848.3" fill="none" stroke="#5C5C5C" stroke-width="1.6"/>
<line x1="1123.03" y1="890.3" x2="1123.03" y2="892.7" stroke="#C8C8C8" stroke-width="0.8"/>
<text transform="translate(1123.83 902.7) scale(1 1.03)" font-size="14.4" fill="#4D4D4D" text-anchor="middle">0</text>
<line x1="1346.88" y1="890.3" x2="1346.88" y2="892.7" stroke="#C8C8C8" stroke-width="0.8"/>
<text transform="translate(1347.68 902.7) scale(1 1.03)" font-size="14.4" fill="#4D4D4D" text-anchor="middle">1</text>
<line x1="1570.73" y1="890.3" x2="1570.73" y2="892.7" stroke="#C8C8C8" stroke-width="0.8"/>
<text transform="translate(1571.53 902.7) scale(1 1.03)" font-size="14.4" fill="#4D4D4D" text-anchor="middle">2</text>
<line x1="918.1" y1="869.15" x2="920.5" y2="869.15" stroke="#C8C8C8" stroke-width="0.8"/>
<text transform="translate(917.75 872.75) scale(1 1.03)" font-size="14.4" fill="#4D4D4D" text-anchor="end">−1</text>
<line x1="918.1" y1="645.15" x2="920.5" y2="645.15" stroke="#C8C8C8" stroke-width="0.8"/>
<text transform="translate(917.75 648.75) scale(1 1.03)" font-size="14.4" fill="#4D4D4D" text-anchor="end">0</text>
<line x1="918.1" y1="421.15" x2="920.5" y2="421.15" stroke="#C8C8C8" stroke-width="0.8"/>
<text transform="translate(917.75 424.75) scale(1 1.03)" font-size="14.4" fill="#4D4D4D" text-anchor="end">1</text>
<line x1="918.1" y1="197.15" x2="920.5" y2="197.15" stroke="#C8C8C8" stroke-width="0.8"/>
<text transform="translate(917.75 200.75) scale(1 1.03)" font-size="14.4" fill="#4D4D4D" text-anchor="end">2</text>
<text x="1772.8" y="928.6" font-size="19.35" class="k" fill="#000" text-anchor="end">Dim 1 (82.62%)</text>
<text transform="translate(910.4 38.9) rotate(-90) scale(0.972 1)" font-size="20.0" class="k" fill="#000" text-anchor="end">Dim 2 (15.28%)</text>
<text x="891.3" y="28.3" font-size="39.2" font-weight="bold" class="k" fill="#000">C</text>
<rect x="934.1" y="51.2" width="96.4" height="147" fill="#fff" stroke="#000" stroke-width="1.5"/>
<text transform="translate(945 68) scale(0.94 1)" font-size="15.5" class="k" fill="#000">Inertia*1000</text>
<rect x="944.2" y="76.7" width="22.9" height="114.9" fill="url(#grad)"/>
<path d="M944.2 89.1h4.6M967.1 89.1h-4.6" stroke="#fff" stroke-opacity="0.85" stroke-width="0.8"/>
<text x="974.6" y="93.5" font-size="12.4" class="k" fill="#000">30</text>
<path d="M944.2 123.6h4.6M967.1 123.6h-4.6" stroke="#fff" stroke-opacity="0.85" stroke-width="0.8"/>
<text x="974.6" y="128" font-size="12.4" class="k" fill="#000">20</text>
<path d="M944.2 158h4.6M967.1 158h-4.6" stroke="#fff" stroke-opacity="0.85" stroke-width="0.8"/>
<text x="974.6" y="162.4" font-size="12.4" class="k" fill="#000">10</text>
<rect x="934.1" y="207.8" width="96.4" height="48.6" fill="#fff" stroke="#000" stroke-width="1.5"/>
<path d="M950.4 216.21 L958.24 229.42 L942.56 229.42Z" fill="#231F20"/>
<text x="967.2" y="229.2" font-size="13.1" class="k" fill="#000">Age</text>
<ellipse cx="950.2" cy="243.8" rx="7.39" ry="7.39" fill="#231F20"/>
<text x="966.7" y="248.8" font-size="13.1" class="k" fill="#000">Product</text>
</svg></body></html>
